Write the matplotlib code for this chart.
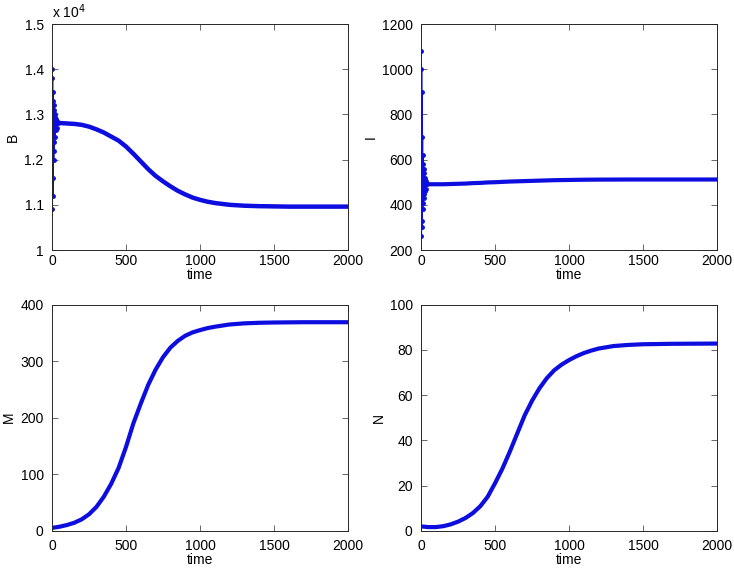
import numpy as np
import matplotlib
matplotlib.use("Agg")
import matplotlib.pyplot as plt

plt.rcParams['font.family'] = ['Liberation Sans', 'DejaVu Sans']
plt.rcParams['font.size'] = 10

# early transient (time, value)
t_early = [0, 1.5, 3, 4.5, 6, 7.5, 9, 10.5, 12, 13.5, 15, 17, 19, 21, 23, 25, 28, 31, 35, 40]
B_early = [14000, 10900, 13800, 11200, 13500, 11600, 13300, 12000, 13200, 12200,
           13100, 12400, 13000, 12500, 12950, 12650, 12900, 12700, 12850, 12810]
I_early = [1080, 260, 1000, 300, 900, 330, 700, 380, 620, 410,
           580, 430, 560, 450, 540, 460, 520, 470, 505, 491]

# smooth part after the transient
t_B = [40, 50, 100, 150, 200, 250, 300, 350, 400, 450, 500, 550, 600, 650, 700, 750, 800,
       850, 900, 950, 1000, 1050, 1100, 1200, 1300, 1400, 1600, 2000]
B_late = [12810, 12810, 12800, 12790, 12770, 12730, 12670, 12600, 12510, 12420, 12290,
          12130, 11960, 11790, 11640, 11520, 11410, 11310, 11230, 11160, 11110, 11070,
          11040, 11000, 10980, 10970, 10960, 10960]

t_I = [40, 100, 150, 200, 250, 300, 350, 400, 450, 500, 600, 700, 800, 900, 1000, 1100,
       1200, 1400, 2000]
I_late = [491, 491, 491, 492, 493, 494, 496, 497, 499, 500, 503, 505, 507, 509, 510, 511,
          511.5, 512, 512]

t_MN = [0, 50, 100, 150, 200, 250, 300, 350, 400, 450, 500, 550, 600, 650, 700, 750, 800,
        850, 900, 950, 1000, 1050, 1100, 1150, 1200, 1300, 1400, 1500, 1700, 2000]
M = [5, 7, 10, 14, 20, 29, 42, 60, 83, 111, 148, 190, 225, 258, 285, 307, 324, 336, 345,
     351, 355, 358.5, 361, 363, 365, 367, 368, 368.5, 369, 369]
N = [1.9, 1.6, 1.6, 2.0, 2.8, 4.0, 5.6, 7.8, 10.8, 15, 21, 27.5, 35, 43, 51, 57.5, 63,
     67.5, 71, 73.5, 75.5, 77.2, 78.6, 79.7, 80.6, 81.7, 82.2, 82.5, 82.7, 82.8]

blue = (0.05, 0.05, 0.88)

fig = plt.figure(figsize=(7.34, 5.69), dpi=100)
ax_B = fig.add_axes([0.0708, 0.5606, 0.4033, 0.3972])
ax_I = fig.add_axes([0.5736, 0.5606, 0.4033, 0.3972])
ax_M = fig.add_axes([0.0708, 0.0673, 0.4033, 0.3972])
ax_N = fig.add_axes([0.5736, 0.0673, 0.4033, 0.3972])

style = dict(color=blue, solid_joinstyle='round', solid_capstyle='round')
ax_B.plot(t_early, np.array(B_early) / 1e4, '.-', lw=1.2, ms=5, **style)
ax_B.plot(t_B, np.array(B_late) / 1e4, '-', lw=3.2, **style)
ax_I.plot(t_early, I_early, '.-', lw=1.2, ms=5, **style)
ax_I.plot(t_I, I_late, '-', lw=3.0, **style)
ax_M.plot(t_MN, M, '-', lw=3.0, **style)
ax_N.plot(t_MN, N, '-', lw=3.0, **style)

ax_B.set_ylim(1, 1.5)
ax_B.set_yticks([1, 1.1, 1.2, 1.3, 1.4, 1.5])
ax_B.set_yticklabels(['1', '1.1', '1.2', '1.3', '1.4', '1.5'])
ax_B.text(0, 1.012, r'x 10$^{4}$', transform=ax_B.transAxes, ha='left', va='bottom')
ax_I.set_ylim(200, 1200)
ax_I.set_yticks(range(200, 1201, 200))
ax_M.set_ylim(0, 400)
ax_M.set_yticks(range(0, 401, 100))
ax_N.set_ylim(0, 100)
ax_N.set_yticks(range(0, 101, 20))

label_x = {'B': -0.11, 'I': -0.147, 'M': -0.123, 'N': -0.12}
for ax, lab in [(ax_B, 'B'), (ax_I, 'I'), (ax_M, 'M'), (ax_N, 'N')]:
    top_row = lab in ('B', 'I')
    ax.set_xlim(0, 2000)
    ax.set_xticks([0, 500, 1000, 1500, 2000])
    ax.set_xlabel('time', labelpad=0)
    ax.set_ylabel(lab)
    ax.yaxis.set_label_coords(label_x[lab], 0.5)
    ax.tick_params(direction='in', top=True, right=True, length=4, width=0.6,
                   color='0.3')
    ax.tick_params(axis='x', pad=3 if top_row else 6)
    ax.tick_params(axis='y', pad=6)
    for s in ax.spines.values():
        s.set_linewidth(0.7)
        s.set_color('0.15')

fig.savefig('out.png', dpi=100)
